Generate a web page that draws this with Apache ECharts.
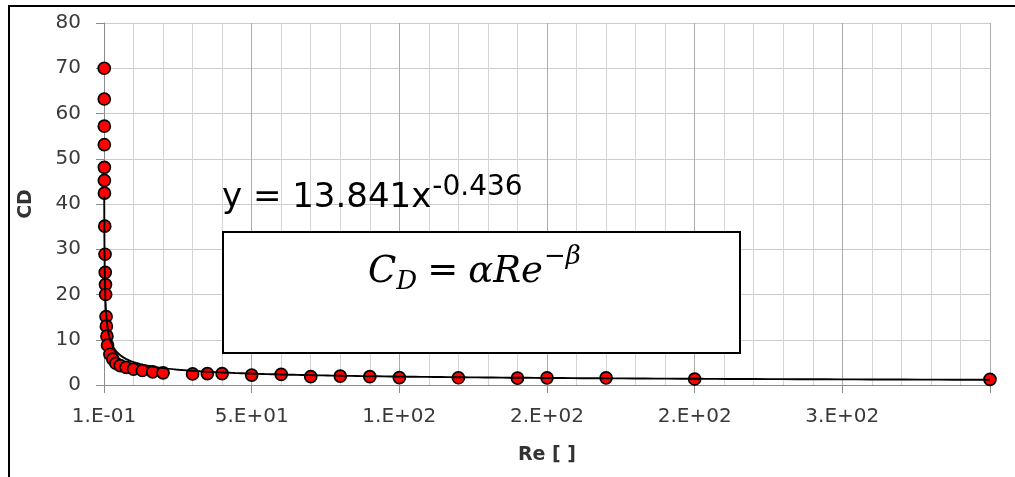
<!DOCTYPE html>
<html>
<head>
<meta charset="utf-8">
<script src="https://cdn.jsdelivr.net/npm/echarts@6/dist/echarts.min.js"></script>
<style>
html,body{margin:0;padding:0;background:#fff;}
#chart{width:1015px;height:477px;}
</style>
</head>
<body>
<div id="chart"></div>
<script>
// Data
const reValues = [0.08, 0.09, 0.1, 0.11, 0.12, 0.13, 0.15, 0.25, 0.35, 0.42, 0.5, 0.55, 0.7, 0.8, 1.0, 1.2,
  2, 3, 4, 5.5, 7.5, 10, 13, 16.5, 20, 30, 35, 40, 50, 60, 70, 80, 90, 100, 120, 140, 150, 170, 200, 300];
const cdValues = [70, 63.2, 57.2, 53.1, 48.1, 45.2, 42.4, 35.1, 28.9, 24.9, 22.2, 20.0, 15.1, 13.0, 10.8, 8.8,
  6.8, 5.7, 4.8, 4.3, 3.9, 3.5, 3.2, 2.9, 2.7, 2.45, 2.5, 2.5, 2.2, 2.35, 1.85, 1.98, 1.85, 1.62, 1.6, 1.5, 1.58, 1.58, 1.32, 1.25];
const xTickLabels = ['1.E-01', '5.E+01', '1.E+02', '2.E+02', '2.E+02', '3.E+02'];
const yTickLabels = ['0', '10', '20', '30', '40', '50', '60', '70', '80'];
// Power trendline shown on the chart: y = 13.841 x^-0.436
const trendAlpha = 13.841;
const trendBeta = 0.436;
const xAxisTitle = 'Re [ ]';
const yAxisTitle = 'CD';
const eqMain = 'y = 13.841x';
const eqExp = '-0.436';

const points = reValues.map((r, i) => [r, cdValues[i]]);
const xMinData = Math.min(...reValues), xMaxData = Math.max(...reValues);
const trend = [];
const nT = 400;
for (let i = 0; i <= nT; i++) {
  const x = Math.exp(Math.log(xMinData) + (Math.log(xMaxData) - Math.log(xMinData)) * i / nT);
  trend.push([x, trendAlpha * Math.pow(x, -trendBeta)]);
}

const labelFont = 'DejaVu Sans';
const chart = echarts.init(document.getElementById('chart'), null, {renderer: 'canvas'});

// text run layout helper (for equation annotations)
const mctx = document.createElement('canvas').getContext('2d');
function runs(x0, yBase, list) {
  const els = [];
  let x = x0;
  list.forEach(r => {
    const font = `${r.style || 'normal'} ${r.weight || 'normal'} ${r.size}px "${r.family}"`;
    mctx.font = font;
    const w = mctx.measureText(r.t).width;
    els.push({
      type: 'text', z: 20,
      style: {
        text: r.t, x: x, y: yBase + (r.dy || 0),
        fontSize: r.size, fontFamily: r.family, fontStyle: r.style || 'normal', fontWeight: r.weight || 'normal',
        fill: r.color || '#000', textAlign: 'left', textVerticalAlign: 'middle'
      }
    });
    x += w + (r.gap || 0);
  });
  return els;
}

const graphics = [
  {type: 'rect', z: 0, shape: {x: 9, y: 6, width: 1030, height: 500}, style: {fill: 'none', stroke: '#000', lineWidth: 2}},
  {type: 'rect', z: 15, shape: {x: 223, y: 232, width: 517, height: 121}, style: {fill: '#fff', stroke: '#000', lineWidth: 2}}
].concat(
  runs(222, 198, [
    {t: eqMain, size: 34, family: 'DejaVu Sans', color: '#000', gap: 1},
    {t: eqExp, size: 28, family: 'DejaVu Sans', color: '#000', dy: -10}
  ]),
  runs(368, 272, [
    {t: 'C', size: 37, family: 'DejaVu Serif', style: 'italic'},
    {t: 'D', size: 26, family: 'DejaVu Serif', style: 'italic', dy: 10, gap: 10},
    {t: '=', size: 37, family: 'DejaVu Serif', gap: 10},
    {t: 'αRe', size: 37, family: 'DejaVu Serif', style: 'italic', gap: 1},
    {t: '−β', size: 26, family: 'DejaVu Serif', style: 'italic', dy: -15}
  ])
);

const option = {
  animation: false,
  backgroundColor: '#fff',
  grid: {left: 104, right: 25, top: 23, bottom: 92, containLabel: false},
  xAxis: {
    type: 'value', min: 0, max: 300, interval: 50,
    name: xAxisTitle, nameLocation: 'middle', nameGap: 61,
    nameTextStyle: {fontFamily: labelFont, fontWeight: 'bold', fontSize: 19, color: '#333333'},
    axisLine: {show: true, lineStyle: {color: '#8c8c8c', width: 1}},
    axisTick: {show: true, length: 8, lineStyle: {color: '#8c8c8c'}},
    minorTick: {show: false, splitNumber: 5},
    axisLabel: {
      margin: 22, fontFamily: labelFont, fontSize: 20, color: '#3a3a3a',
      formatter: (v, i) => (i < xTickLabels.length ? xTickLabels[i] : '')
    },
    splitLine: {show: true, lineStyle: {color: '#ababab', width: 1}},
    minorSplitLine: {show: true, lineStyle: {color: '#d4d4d4', width: 1}}
  },
  yAxis: {
    type: 'value', min: 0, max: 80, interval: 10,
    name: yAxisTitle, nameLocation: 'middle', nameGap: 68, nameRotate: 90,
    nameTextStyle: {fontFamily: labelFont, fontWeight: 'bold', fontSize: 19, color: '#333333'},
    axisLine: {show: true, lineStyle: {color: '#8c8c8c', width: 1}},
    axisTick: {show: true, length: 8, lineStyle: {color: '#8c8c8c'}},
    axisLabel: {
      margin: 23, fontFamily: labelFont, fontSize: 20, color: '#3a3a3a',
      formatter: (v, i) => yTickLabels[i] !== undefined ? yTickLabels[i] : String(v)
    },
    splitLine: {show: true, lineStyle: {color: '#cccccc', width: 1}}
  },
  series: [
    {
      type: 'scatter', name: 'CD', data: points, symbol: 'circle', symbolSize: 12, z: 3,
      itemStyle: {color: '#ff0000', borderColor: '#000', borderWidth: 1.7, opacity: 1},
      emphasis: {disabled: true}
    },
    {
      type: 'line', name: 'Power trend', data: trend, showSymbol: false, symbol: 'none', z: 4,
      lineStyle: {color: '#000', width: 1.9}, silent: true, clip: true
    }
  ],
  graphic: graphics
};
chart.setOption(option);
</script>
</body>
</html>
